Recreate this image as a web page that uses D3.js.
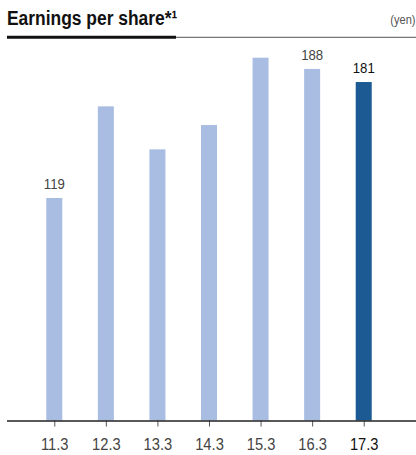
<!DOCTYPE html>
<html>
<head>
<meta charset="utf-8">
<script src="https://cdn.jsdelivr.net/npm/d3@7"></script>
<style>
  html, body { margin: 0; padding: 0; background: #fff; }
  svg { display: block; }
  text { font-family: "Liberation Sans", Arial, sans-serif; }
</style>
</head>
<body>
<script>
// Fiscal years (ending March) and earnings per share in yen
const categories = ["11.3", "12.3", "13.3", "14.3", "15.3", "16.3", "17.3"];
const eps = [119, 168, 145, 158, 194, 188, 181];
// Only these years carry a value label
const labelled = ["11.3", "16.3", "17.3"];
const title = "Earnings per share*¹";
const unit = "(yen)";

const W = 416, H = 455;
const baseY = 420.5;
const narrow = 0.85; // horizontal squeeze for a condensed look

const svg = d3.select("body").append("svg")
  .attr("width", W).attr("height", H);

const x = d3.scalePoint()
  .domain(categories)
  .range([28.5, 389.5])
  .padding(0.5);

const y = d3.scaleLinear()
  .domain([0, 200])
  .range([baseY, baseY - 200 * 1.87]);

const barW = 16;
const current = categories[categories.length - 1];

// Title and header rule
svg.append("text")
  .attr("transform", `translate(7,25) scale(0.83,1)`)
  .attr("font-size", 21).attr("font-weight", "bold")
  .attr("fill", "#111")
  .text(title);

svg.append("text")
  .attr("transform", `translate(415.5,24) scale(${narrow},1)`)
  .attr("text-anchor", "end")
  .attr("font-size", 13).attr("fill", "#555")
  .text(unit);

svg.append("line")
  .attr("x1", 176).attr("x2", 416)
  .attr("y1", 37.3).attr("y2", 37.3)
  .attr("stroke", "#555").attr("stroke-width", 1);

svg.append("line")
  .attr("x1", 7).attr("x2", 176)
  .attr("y1", 37.2).attr("y2", 37.2)
  .attr("stroke", "#111").attr("stroke-width", 3);

// Bars
const data = categories.map((c, i) => ({ c, v: eps[i] }));

svg.append("g").selectAll("rect")
  .data(data)
  .join("rect")
  .attr("x", d => x(d.c) - barW / 2)
  .attr("width", barW)
  .attr("y", d => y(d.v))
  .attr("height", d => y(0) - y(d.v))
  .attr("fill", d => d.c === current ? "#1b5a93" : "#a8bde1");

// Value labels
svg.append("g").selectAll("text")
  .data(data.filter(d => labelled.includes(d.c)))
  .join("text")
  .attr("transform", d => `translate(${x(d.c)},${y(d.v) - 9}) scale(${narrow},1)`)
  .attr("text-anchor", "middle")
  .attr("font-size", 15.5)
  .attr("fill", d => d.c === current ? "#111" : "#444")
  .text(d => d.v);

// X axis
const axis = svg.append("g")
  .attr("transform", `translate(0,${baseY})`)
  .call(d3.axisBottom(x).tickSize(6).tickPadding(12));

axis.select(".domain").remove();
axis.selectAll(".tick line").attr("stroke", "#555").attr("stroke-width", 1);
axis.selectAll(".tick text")
  .attr("font-size", 16)
  .attr("font-family", "'Liberation Sans', Arial, sans-serif")
  .attr("transform", `scale(0.92,1)`)
  .attr("fill", d => d === current ? "#111" : "#444");

svg.append("line")
  .attr("x1", 7).attr("x2", 416)
  .attr("y1", baseY + 0.5).attr("y2", baseY + 0.5)
  .attr("stroke", "#222").attr("stroke-width", 1.6);
</script>
</body>
</html>
